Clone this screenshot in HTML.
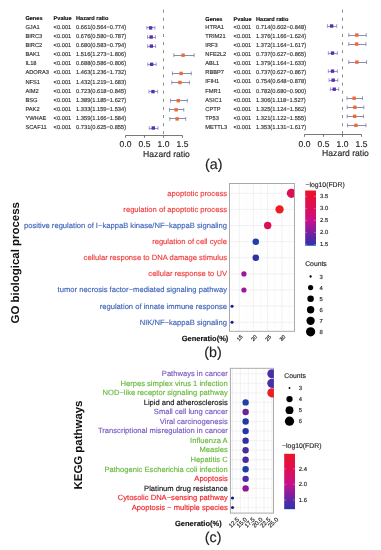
<!DOCTYPE html>
<html><head><meta charset="utf-8"><style>
html,body{margin:0;padding:0;background:#fff;}
svg{display:block;font-family:"Liberation Sans", sans-serif;text-rendering:geometricPrecision;-webkit-font-smoothing:antialiased;will-change:transform;}
</style></head><body>
<svg width="381" height="550" viewBox="0 0 381 550">
<rect width="381" height="550" fill="#fff"/>
<text x="25.40" y="19.80" font-size="5.6" fill="#111" stroke="#111" stroke-width="0.14" font-weight="bold">Genes</text>
<text x="53.60" y="19.80" font-size="5.6" fill="#111" stroke="#111" stroke-width="0.14" font-weight="bold">Pvalue</text>
<text x="76.00" y="19.80" font-size="5.6" fill="#111" stroke="#111" stroke-width="0.14" font-weight="bold">Hazard ratio</text>
<text x="25.40" y="28.90" font-size="5.72" fill="#333" stroke="#333" stroke-width="0.14">GJA1</text>
<text x="53.60" y="28.90" font-size="5.72" fill="#333" stroke="#333" stroke-width="0.14">&lt;0.001</text>
<text x="76.00" y="28.90" font-size="5.72" fill="#333" stroke="#333" stroke-width="0.14">0.661(0.564−0.774)</text>
<text x="25.40" y="38.00" font-size="5.72" fill="#333" stroke="#333" stroke-width="0.14">BIRC3</text>
<text x="53.60" y="38.00" font-size="5.72" fill="#333" stroke="#333" stroke-width="0.14">&lt;0.001</text>
<text x="76.00" y="38.00" font-size="5.72" fill="#333" stroke="#333" stroke-width="0.14">0.676(0.580−0.787)</text>
<text x="25.40" y="47.10" font-size="5.72" fill="#333" stroke="#333" stroke-width="0.14">BIRC2</text>
<text x="53.60" y="47.10" font-size="5.72" fill="#333" stroke="#333" stroke-width="0.14">&lt;0.001</text>
<text x="76.00" y="47.10" font-size="5.72" fill="#333" stroke="#333" stroke-width="0.14">0.680(0.583−0.794)</text>
<text x="25.40" y="56.20" font-size="5.72" fill="#333" stroke="#333" stroke-width="0.14">BAK1</text>
<text x="53.60" y="56.20" font-size="5.72" fill="#333" stroke="#333" stroke-width="0.14">&lt;0.001</text>
<text x="76.00" y="56.20" font-size="5.72" fill="#333" stroke="#333" stroke-width="0.14">1.516(1.273−1.806)</text>
<text x="25.40" y="65.30" font-size="5.72" fill="#333" stroke="#333" stroke-width="0.14">IL18</text>
<text x="53.60" y="65.30" font-size="5.72" fill="#333" stroke="#333" stroke-width="0.14">&lt;0.001</text>
<text x="76.00" y="65.30" font-size="5.72" fill="#333" stroke="#333" stroke-width="0.14">0.688(0.586−0.806)</text>
<text x="25.40" y="74.40" font-size="5.72" fill="#333" stroke="#333" stroke-width="0.14">ADORA3</text>
<text x="53.60" y="74.40" font-size="5.72" fill="#333" stroke="#333" stroke-width="0.14">&lt;0.001</text>
<text x="76.00" y="74.40" font-size="5.72" fill="#333" stroke="#333" stroke-width="0.14">1.463(1.236−1.732)</text>
<text x="25.40" y="83.50" font-size="5.72" fill="#333" stroke="#333" stroke-width="0.14">NFS1</text>
<text x="53.60" y="83.50" font-size="5.72" fill="#333" stroke="#333" stroke-width="0.14">&lt;0.001</text>
<text x="76.00" y="83.50" font-size="5.72" fill="#333" stroke="#333" stroke-width="0.14">1.432(1.219−1.683)</text>
<text x="25.40" y="92.60" font-size="5.72" fill="#333" stroke="#333" stroke-width="0.14">AIM2</text>
<text x="53.60" y="92.60" font-size="5.72" fill="#333" stroke="#333" stroke-width="0.14">&lt;0.001</text>
<text x="76.00" y="92.60" font-size="5.72" fill="#333" stroke="#333" stroke-width="0.14">0.723(0.618−0.845)</text>
<text x="25.40" y="101.70" font-size="5.72" fill="#333" stroke="#333" stroke-width="0.14">BSG</text>
<text x="53.60" y="101.70" font-size="5.72" fill="#333" stroke="#333" stroke-width="0.14">&lt;0.001</text>
<text x="76.00" y="101.70" font-size="5.72" fill="#333" stroke="#333" stroke-width="0.14">1.389(1.185−1.627)</text>
<text x="25.40" y="110.80" font-size="5.72" fill="#333" stroke="#333" stroke-width="0.14">PAK2</text>
<text x="53.60" y="110.80" font-size="5.72" fill="#333" stroke="#333" stroke-width="0.14">&lt;0.001</text>
<text x="76.00" y="110.80" font-size="5.72" fill="#333" stroke="#333" stroke-width="0.14">1.333(1.159−1.534)</text>
<text x="25.40" y="119.90" font-size="5.72" fill="#333" stroke="#333" stroke-width="0.14">YWHAE</text>
<text x="53.60" y="119.90" font-size="5.72" fill="#333" stroke="#333" stroke-width="0.14">&lt;0.001</text>
<text x="76.00" y="119.90" font-size="5.72" fill="#333" stroke="#333" stroke-width="0.14">1.359(1.166−1.584)</text>
<text x="25.40" y="129.00" font-size="5.72" fill="#333" stroke="#333" stroke-width="0.14">SCAF11</text>
<text x="53.60" y="129.00" font-size="5.72" fill="#333" stroke="#333" stroke-width="0.14">&lt;0.001</text>
<text x="76.00" y="129.00" font-size="5.72" fill="#333" stroke="#333" stroke-width="0.14">0.731(0.625−0.855)</text>
<line x1="163.50" y1="9.7" x2="163.50" y2="134" stroke="#777" stroke-width="0.85" stroke-dasharray="3 5.1"/>
<line x1="146.93" y1="27.50" x2="154.91" y2="27.50" stroke="#8088c0" stroke-width="0.9"/>
<line x1="146.93" y1="26.00" x2="146.93" y2="29.80" stroke="#8088c0" stroke-width="0.8"/>
<line x1="154.91" y1="26.00" x2="154.91" y2="29.80" stroke="#8088c0" stroke-width="0.8"/>
<rect x="148.92" y="26.20" width="3.4" height="3.4" fill="#5a2db0"/>
<line x1="147.54" y1="37.50" x2="155.41" y2="37.50" stroke="#8088c0" stroke-width="0.9"/>
<line x1="147.54" y1="35.10" x2="147.54" y2="38.90" stroke="#8088c0" stroke-width="0.8"/>
<line x1="155.41" y1="35.10" x2="155.41" y2="38.90" stroke="#8088c0" stroke-width="0.8"/>
<rect x="149.49" y="35.30" width="3.4" height="3.4" fill="#5a2db0"/>
<line x1="147.65" y1="46.50" x2="155.67" y2="46.50" stroke="#8088c0" stroke-width="0.9"/>
<line x1="147.65" y1="44.20" x2="147.65" y2="48.00" stroke="#8088c0" stroke-width="0.8"/>
<line x1="155.67" y1="44.20" x2="155.67" y2="48.00" stroke="#8088c0" stroke-width="0.8"/>
<rect x="149.64" y="44.40" width="3.4" height="3.4" fill="#5a2db0"/>
<line x1="173.87" y1="55.50" x2="194.13" y2="55.50" stroke="#7880aa" stroke-width="0.9"/>
<line x1="173.87" y1="53.30" x2="173.87" y2="57.10" stroke="#7880aa" stroke-width="0.8"/>
<line x1="194.13" y1="53.30" x2="194.13" y2="57.10" stroke="#7880aa" stroke-width="0.8"/>
<rect x="181.41" y="53.50" width="3.4" height="3.4" fill="#f06a35"/>
<line x1="147.77" y1="64.50" x2="156.13" y2="64.50" stroke="#8088c0" stroke-width="0.9"/>
<line x1="147.77" y1="62.40" x2="147.77" y2="66.20" stroke="#8088c0" stroke-width="0.8"/>
<line x1="156.13" y1="62.40" x2="156.13" y2="66.20" stroke="#8088c0" stroke-width="0.8"/>
<rect x="149.94" y="62.60" width="3.4" height="3.4" fill="#5a2db0"/>
<line x1="172.47" y1="73.50" x2="191.32" y2="73.50" stroke="#7880aa" stroke-width="0.9"/>
<line x1="172.47" y1="71.50" x2="172.47" y2="75.30" stroke="#7880aa" stroke-width="0.8"/>
<line x1="191.32" y1="71.50" x2="191.32" y2="75.30" stroke="#7880aa" stroke-width="0.8"/>
<rect x="179.39" y="71.70" width="3.4" height="3.4" fill="#f06a35"/>
<line x1="171.82" y1="82.50" x2="189.45" y2="82.50" stroke="#7880aa" stroke-width="0.9"/>
<line x1="171.82" y1="80.60" x2="171.82" y2="84.40" stroke="#7880aa" stroke-width="0.8"/>
<line x1="189.45" y1="80.60" x2="189.45" y2="84.40" stroke="#7880aa" stroke-width="0.8"/>
<rect x="178.22" y="80.80" width="3.4" height="3.4" fill="#f06a35"/>
<line x1="148.98" y1="91.50" x2="157.61" y2="91.50" stroke="#8088c0" stroke-width="0.9"/>
<line x1="148.98" y1="89.70" x2="148.98" y2="93.50" stroke="#8088c0" stroke-width="0.8"/>
<line x1="157.61" y1="89.70" x2="157.61" y2="93.50" stroke="#8088c0" stroke-width="0.8"/>
<rect x="151.27" y="89.90" width="3.4" height="3.4" fill="#5a2db0"/>
<line x1="170.53" y1="100.50" x2="187.33" y2="100.50" stroke="#7880aa" stroke-width="0.9"/>
<line x1="170.53" y1="98.80" x2="170.53" y2="102.60" stroke="#7880aa" stroke-width="0.8"/>
<line x1="187.33" y1="98.80" x2="187.33" y2="102.60" stroke="#7880aa" stroke-width="0.8"/>
<rect x="176.58" y="99.00" width="3.4" height="3.4" fill="#f06a35"/>
<line x1="169.54" y1="109.50" x2="183.79" y2="109.50" stroke="#7880aa" stroke-width="0.9"/>
<line x1="169.54" y1="107.90" x2="169.54" y2="111.70" stroke="#7880aa" stroke-width="0.8"/>
<line x1="183.79" y1="107.90" x2="183.79" y2="111.70" stroke="#7880aa" stroke-width="0.8"/>
<rect x="174.45" y="108.10" width="3.4" height="3.4" fill="#f06a35"/>
<line x1="169.81" y1="118.50" x2="185.69" y2="118.50" stroke="#7880aa" stroke-width="0.9"/>
<line x1="169.81" y1="117.00" x2="169.81" y2="120.80" stroke="#7880aa" stroke-width="0.8"/>
<line x1="185.69" y1="117.00" x2="185.69" y2="120.80" stroke="#7880aa" stroke-width="0.8"/>
<rect x="175.44" y="117.20" width="3.4" height="3.4" fill="#f06a35"/>
<line x1="149.25" y1="128.50" x2="157.99" y2="128.50" stroke="#8088c0" stroke-width="0.9"/>
<line x1="149.25" y1="126.10" x2="149.25" y2="129.90" stroke="#8088c0" stroke-width="0.8"/>
<line x1="157.99" y1="126.10" x2="157.99" y2="129.90" stroke="#8088c0" stroke-width="0.8"/>
<rect x="151.58" y="126.30" width="3.4" height="3.4" fill="#5a2db0"/>
<line x1="125.50" y1="135.5" x2="182.50" y2="135.5" stroke="#555" stroke-width="0.8"/>
<line x1="125.50" y1="135.5" x2="125.50" y2="137.8" stroke="#555" stroke-width="0.8"/>
<text x="125.50" y="146.80" font-size="8.5" fill="#222" stroke="#222" stroke-width="0.14" text-anchor="middle">0.0</text>
<line x1="144.50" y1="135.5" x2="144.50" y2="137.8" stroke="#555" stroke-width="0.8"/>
<text x="144.50" y="146.80" font-size="8.5" fill="#222" stroke="#222" stroke-width="0.14" text-anchor="middle">0.5</text>
<line x1="163.50" y1="135.5" x2="163.50" y2="137.8" stroke="#555" stroke-width="0.8"/>
<text x="163.50" y="146.80" font-size="8.5" fill="#222" stroke="#222" stroke-width="0.14" text-anchor="middle">1.0</text>
<line x1="182.50" y1="135.5" x2="182.50" y2="137.8" stroke="#555" stroke-width="0.8"/>
<text x="182.50" y="146.80" font-size="8.5" fill="#222" stroke="#222" stroke-width="0.14" text-anchor="middle">1.5</text>
<text x="166.50" y="156.90" font-size="8.6" fill="#222" stroke="#222" stroke-width="0.14" text-anchor="middle">Hazard ratio</text>
<text x="205.30" y="20.80" font-size="5.6" fill="#111" stroke="#111" stroke-width="0.14" font-weight="bold">Genes</text>
<text x="233.60" y="20.80" font-size="5.6" fill="#111" stroke="#111" stroke-width="0.14" font-weight="bold">Pvalue</text>
<text x="256.00" y="20.80" font-size="5.6" fill="#111" stroke="#111" stroke-width="0.14" font-weight="bold">Hazard ratio</text>
<text x="205.30" y="28.80" font-size="5.72" fill="#333" stroke="#333" stroke-width="0.14">HTRA1</text>
<text x="233.60" y="28.80" font-size="5.72" fill="#333" stroke="#333" stroke-width="0.14">&lt;0.001</text>
<text x="256.00" y="28.80" font-size="5.72" fill="#333" stroke="#333" stroke-width="0.14">0.714(0.602−0.848)</text>
<text x="205.30" y="37.90" font-size="5.72" fill="#333" stroke="#333" stroke-width="0.14">TRIM21</text>
<text x="233.60" y="37.90" font-size="5.72" fill="#333" stroke="#333" stroke-width="0.14">&lt;0.001</text>
<text x="256.00" y="37.90" font-size="5.72" fill="#333" stroke="#333" stroke-width="0.14">1.376(1.166−1.624)</text>
<text x="205.30" y="47.00" font-size="5.72" fill="#333" stroke="#333" stroke-width="0.14">IRF3</text>
<text x="233.60" y="47.00" font-size="5.72" fill="#333" stroke="#333" stroke-width="0.14">&lt;0.001</text>
<text x="256.00" y="47.00" font-size="5.72" fill="#333" stroke="#333" stroke-width="0.14">1.372(1.164−1.617)</text>
<text x="205.30" y="56.10" font-size="5.72" fill="#333" stroke="#333" stroke-width="0.14">NFE2L2</text>
<text x="233.60" y="56.10" font-size="5.72" fill="#333" stroke="#333" stroke-width="0.14">&lt;0.001</text>
<text x="256.00" y="56.10" font-size="5.72" fill="#333" stroke="#333" stroke-width="0.14">0.737(0.627−0.865)</text>
<text x="205.30" y="65.20" font-size="5.72" fill="#333" stroke="#333" stroke-width="0.14">ABL1</text>
<text x="233.60" y="65.20" font-size="5.72" fill="#333" stroke="#333" stroke-width="0.14">&lt;0.001</text>
<text x="256.00" y="65.20" font-size="5.72" fill="#333" stroke="#333" stroke-width="0.14">1.379(1.164−1.633)</text>
<text x="205.30" y="74.30" font-size="5.72" fill="#333" stroke="#333" stroke-width="0.14">RBBP7</text>
<text x="233.60" y="74.30" font-size="5.72" fill="#333" stroke="#333" stroke-width="0.14">&lt;0.001</text>
<text x="256.00" y="74.30" font-size="5.72" fill="#333" stroke="#333" stroke-width="0.14">0.737(0.627−0.867)</text>
<text x="205.30" y="83.40" font-size="5.72" fill="#333" stroke="#333" stroke-width="0.14">IFIH1</text>
<text x="233.60" y="83.40" font-size="5.72" fill="#333" stroke="#333" stroke-width="0.14">&lt;0.001</text>
<text x="256.00" y="83.40" font-size="5.72" fill="#333" stroke="#333" stroke-width="0.14">0.754(0.648−0.878)</text>
<text x="205.30" y="92.50" font-size="5.72" fill="#333" stroke="#333" stroke-width="0.14">FMR1</text>
<text x="233.60" y="92.50" font-size="5.72" fill="#333" stroke="#333" stroke-width="0.14">&lt;0.001</text>
<text x="256.00" y="92.50" font-size="5.72" fill="#333" stroke="#333" stroke-width="0.14">0.782(0.680−0.900)</text>
<text x="205.30" y="101.60" font-size="5.72" fill="#333" stroke="#333" stroke-width="0.14">ASIC1</text>
<text x="233.60" y="101.60" font-size="5.72" fill="#333" stroke="#333" stroke-width="0.14">&lt;0.001</text>
<text x="256.00" y="101.60" font-size="5.72" fill="#333" stroke="#333" stroke-width="0.14">1.306(1.118−1.527)</text>
<text x="205.30" y="110.70" font-size="5.72" fill="#333" stroke="#333" stroke-width="0.14">CPTP</text>
<text x="233.60" y="110.70" font-size="5.72" fill="#333" stroke="#333" stroke-width="0.14">&lt;0.001</text>
<text x="256.00" y="110.70" font-size="5.72" fill="#333" stroke="#333" stroke-width="0.14">1.325(1.124−1.562)</text>
<text x="205.30" y="119.80" font-size="5.72" fill="#333" stroke="#333" stroke-width="0.14">TP53</text>
<text x="233.60" y="119.80" font-size="5.72" fill="#333" stroke="#333" stroke-width="0.14">&lt;0.001</text>
<text x="256.00" y="119.80" font-size="5.72" fill="#333" stroke="#333" stroke-width="0.14">1.321(1.122−1.555)</text>
<text x="205.30" y="128.90" font-size="5.72" fill="#333" stroke="#333" stroke-width="0.14">METTL3</text>
<text x="233.60" y="128.90" font-size="5.72" fill="#333" stroke="#333" stroke-width="0.14">&lt;0.001</text>
<text x="256.00" y="128.90" font-size="5.72" fill="#333" stroke="#333" stroke-width="0.14">1.353(1.131−1.617)</text>
<line x1="342.50" y1="9.7" x2="342.50" y2="134.5" stroke="#777" stroke-width="0.85" stroke-dasharray="3 5.1"/>
<line x1="327.38" y1="26.50" x2="336.72" y2="26.50" stroke="#8088c0" stroke-width="0.9"/>
<line x1="327.38" y1="24.10" x2="327.38" y2="27.90" stroke="#8088c0" stroke-width="0.8"/>
<line x1="336.72" y1="24.10" x2="336.72" y2="27.90" stroke="#8088c0" stroke-width="0.8"/>
<rect x="329.93" y="24.30" width="3.4" height="3.4" fill="#5a2db0"/>
<line x1="348.81" y1="35.50" x2="366.21" y2="35.50" stroke="#7880aa" stroke-width="0.9"/>
<line x1="348.81" y1="33.13" x2="348.81" y2="36.93" stroke="#7880aa" stroke-width="0.8"/>
<line x1="366.21" y1="33.13" x2="366.21" y2="36.93" stroke="#7880aa" stroke-width="0.8"/>
<rect x="355.09" y="33.33" width="3.4" height="3.4" fill="#f06a35"/>
<line x1="348.73" y1="44.50" x2="365.95" y2="44.50" stroke="#7880aa" stroke-width="0.9"/>
<line x1="348.73" y1="42.16" x2="348.73" y2="45.96" stroke="#7880aa" stroke-width="0.8"/>
<line x1="365.95" y1="42.16" x2="365.95" y2="45.96" stroke="#7880aa" stroke-width="0.8"/>
<rect x="354.94" y="42.36" width="3.4" height="3.4" fill="#f06a35"/>
<line x1="328.33" y1="53.50" x2="337.37" y2="53.50" stroke="#8088c0" stroke-width="0.9"/>
<line x1="328.33" y1="51.19" x2="328.33" y2="54.99" stroke="#8088c0" stroke-width="0.8"/>
<line x1="337.37" y1="51.19" x2="337.37" y2="54.99" stroke="#8088c0" stroke-width="0.8"/>
<rect x="330.81" y="51.39" width="3.4" height="3.4" fill="#5a2db0"/>
<line x1="348.73" y1="62.50" x2="366.55" y2="62.50" stroke="#7880aa" stroke-width="0.9"/>
<line x1="348.73" y1="60.22" x2="348.73" y2="64.02" stroke="#7880aa" stroke-width="0.8"/>
<line x1="366.55" y1="60.22" x2="366.55" y2="64.02" stroke="#7880aa" stroke-width="0.8"/>
<rect x="355.20" y="60.42" width="3.4" height="3.4" fill="#f06a35"/>
<line x1="328.33" y1="71.50" x2="337.45" y2="71.50" stroke="#8088c0" stroke-width="0.9"/>
<line x1="328.33" y1="69.25" x2="328.33" y2="73.05" stroke="#8088c0" stroke-width="0.8"/>
<line x1="337.45" y1="69.25" x2="337.45" y2="73.05" stroke="#8088c0" stroke-width="0.8"/>
<rect x="330.81" y="69.45" width="3.4" height="3.4" fill="#5a2db0"/>
<line x1="329.12" y1="80.50" x2="337.86" y2="80.50" stroke="#8088c0" stroke-width="0.9"/>
<line x1="329.12" y1="78.28" x2="329.12" y2="82.08" stroke="#8088c0" stroke-width="0.8"/>
<line x1="337.86" y1="78.28" x2="337.86" y2="82.08" stroke="#8088c0" stroke-width="0.8"/>
<rect x="331.45" y="78.48" width="3.4" height="3.4" fill="#5a2db0"/>
<line x1="330.34" y1="89.50" x2="338.70" y2="89.50" stroke="#8088c0" stroke-width="0.9"/>
<line x1="330.34" y1="87.31" x2="330.34" y2="91.11" stroke="#8088c0" stroke-width="0.8"/>
<line x1="338.70" y1="87.31" x2="338.70" y2="91.11" stroke="#8088c0" stroke-width="0.8"/>
<rect x="332.52" y="87.51" width="3.4" height="3.4" fill="#5a2db0"/>
<line x1="346.98" y1="98.50" x2="362.53" y2="98.50" stroke="#7880aa" stroke-width="0.9"/>
<line x1="346.98" y1="96.34" x2="346.98" y2="100.14" stroke="#7880aa" stroke-width="0.8"/>
<line x1="362.53" y1="96.34" x2="362.53" y2="100.14" stroke="#7880aa" stroke-width="0.8"/>
<rect x="352.43" y="96.54" width="3.4" height="3.4" fill="#f06a35"/>
<line x1="347.21" y1="107.50" x2="363.86" y2="107.50" stroke="#7880aa" stroke-width="0.9"/>
<line x1="347.21" y1="105.37" x2="347.21" y2="109.17" stroke="#7880aa" stroke-width="0.8"/>
<line x1="363.86" y1="105.37" x2="363.86" y2="109.17" stroke="#7880aa" stroke-width="0.8"/>
<rect x="353.15" y="105.57" width="3.4" height="3.4" fill="#f06a35"/>
<line x1="347.14" y1="116.50" x2="363.59" y2="116.50" stroke="#7880aa" stroke-width="0.9"/>
<line x1="347.14" y1="114.40" x2="347.14" y2="118.20" stroke="#7880aa" stroke-width="0.8"/>
<line x1="363.59" y1="114.40" x2="363.59" y2="118.20" stroke="#7880aa" stroke-width="0.8"/>
<rect x="353.00" y="114.60" width="3.4" height="3.4" fill="#f06a35"/>
<line x1="347.48" y1="125.50" x2="365.95" y2="125.50" stroke="#7880aa" stroke-width="0.9"/>
<line x1="347.48" y1="123.43" x2="347.48" y2="127.23" stroke="#7880aa" stroke-width="0.8"/>
<line x1="365.95" y1="123.43" x2="365.95" y2="127.23" stroke="#7880aa" stroke-width="0.8"/>
<rect x="354.21" y="123.63" width="3.4" height="3.4" fill="#f06a35"/>
<line x1="304.50" y1="134.5" x2="361.50" y2="134.5" stroke="#555" stroke-width="0.8"/>
<line x1="304.50" y1="134.5" x2="304.50" y2="136.8" stroke="#555" stroke-width="0.8"/>
<text x="304.50" y="146.50" font-size="8.5" fill="#222" stroke="#222" stroke-width="0.14" text-anchor="middle">0.0</text>
<line x1="323.50" y1="134.5" x2="323.50" y2="136.8" stroke="#555" stroke-width="0.8"/>
<text x="323.50" y="146.50" font-size="8.5" fill="#222" stroke="#222" stroke-width="0.14" text-anchor="middle">0.5</text>
<line x1="342.50" y1="134.5" x2="342.50" y2="136.8" stroke="#555" stroke-width="0.8"/>
<text x="342.50" y="146.50" font-size="8.5" fill="#222" stroke="#222" stroke-width="0.14" text-anchor="middle">1.0</text>
<line x1="361.50" y1="134.5" x2="361.50" y2="136.8" stroke="#555" stroke-width="0.8"/>
<text x="361.50" y="146.50" font-size="8.5" fill="#222" stroke="#222" stroke-width="0.14" text-anchor="middle">1.5</text>
<text x="345.50" y="156.30" font-size="8.6" fill="#222" stroke="#222" stroke-width="0.14" text-anchor="middle">Hazard ratio</text>
<text x="213.70" y="169.00" font-size="14.3" fill="#222" stroke="#222" stroke-width="0.14" text-anchor="middle">(a)</text>
<rect x="229.5" y="183.5" width="65.0" height="147.8" fill="#fff"/>
<line x1="232.04" y1="183.5" x2="232.04" y2="331.3" stroke="#f4f4f4" stroke-width="0.5"/>
<line x1="246.29" y1="183.5" x2="246.29" y2="331.3" stroke="#f4f4f4" stroke-width="0.5"/>
<line x1="260.55" y1="183.5" x2="260.55" y2="331.3" stroke="#f4f4f4" stroke-width="0.5"/>
<line x1="274.80" y1="183.5" x2="274.80" y2="331.3" stroke="#f4f4f4" stroke-width="0.5"/>
<line x1="289.06" y1="183.5" x2="289.06" y2="331.3" stroke="#f4f4f4" stroke-width="0.5"/>
<line x1="239.17" y1="183.5" x2="239.17" y2="331.3" stroke="#ededed" stroke-width="0.8"/>
<line x1="253.42" y1="183.5" x2="253.42" y2="331.3" stroke="#ededed" stroke-width="0.8"/>
<line x1="267.68" y1="183.5" x2="267.68" y2="331.3" stroke="#ededed" stroke-width="0.8"/>
<line x1="281.93" y1="183.5" x2="281.93" y2="331.3" stroke="#ededed" stroke-width="0.8"/>
<line x1="229.5" y1="193.30" x2="294.5" y2="193.30" stroke="#ededed" stroke-width="0.8"/>
<line x1="229.5" y1="209.42" x2="294.5" y2="209.42" stroke="#ededed" stroke-width="0.8"/>
<line x1="229.5" y1="225.54" x2="294.5" y2="225.54" stroke="#ededed" stroke-width="0.8"/>
<line x1="229.5" y1="241.66" x2="294.5" y2="241.66" stroke="#ededed" stroke-width="0.8"/>
<line x1="229.5" y1="257.78" x2="294.5" y2="257.78" stroke="#ededed" stroke-width="0.8"/>
<line x1="229.5" y1="273.90" x2="294.5" y2="273.90" stroke="#ededed" stroke-width="0.8"/>
<line x1="229.5" y1="290.02" x2="294.5" y2="290.02" stroke="#ededed" stroke-width="0.8"/>
<line x1="229.5" y1="306.14" x2="294.5" y2="306.14" stroke="#ededed" stroke-width="0.8"/>
<line x1="229.5" y1="322.26" x2="294.5" y2="322.26" stroke="#ededed" stroke-width="0.8"/>
<defs><clipPath id="cb"><rect x="229.5" y="183.5" width="65.0" height="147.8"/></clipPath></defs>
<g clip-path="url(#cb)">
<circle cx="291.43" cy="193.30" r="4.6" fill="#dc1050"/>
<circle cx="279.55" cy="209.42" r="4.15" fill="#ee1c24"/>
<circle cx="267.68" cy="225.54" r="3.7" fill="#dc0f55"/>
<circle cx="255.80" cy="241.66" r="3.25" fill="#1f3fb0"/>
<circle cx="255.80" cy="257.78" r="3.25" fill="#3030a8"/>
<circle cx="243.92" cy="273.90" r="2.6" fill="#9a189e"/>
<circle cx="243.92" cy="290.02" r="2.6" fill="#9a189e"/>
<circle cx="232.04" cy="306.14" r="1.5" fill="#1c1490"/>
<circle cx="232.04" cy="322.26" r="1.5" fill="#1c1490"/>
</g>
<rect x="229.5" y="183.5" width="65.0" height="147.8" fill="none" stroke="#a6a6a6" stroke-width="0.95"/>
<text x="227.00" y="195.70" font-size="7.62" fill="#ee3a3a" stroke="#ee3a3a" stroke-width="0.14" text-anchor="end">apoptotic process</text>
<text x="227.00" y="211.82" font-size="7.62" fill="#ee3a3a" stroke="#ee3a3a" stroke-width="0.14" text-anchor="end">regulation of apoptotic process</text>
<text x="227.00" y="227.94" font-size="7.62" fill="#3f63b8" stroke="#3f63b8" stroke-width="0.14" text-anchor="end">positive regulation of I−kappaB kinase/NF−kappaB signaling</text>
<text x="227.00" y="244.06" font-size="7.62" fill="#ee3a3a" stroke="#ee3a3a" stroke-width="0.14" text-anchor="end">regulation of cell cycle</text>
<text x="227.00" y="260.18" font-size="7.62" fill="#ee3a3a" stroke="#ee3a3a" stroke-width="0.14" text-anchor="end">cellular response to DNA damage stimulus</text>
<text x="227.00" y="276.30" font-size="7.62" fill="#ee3a3a" stroke="#ee3a3a" stroke-width="0.14" text-anchor="end">cellular response to UV</text>
<text x="227.00" y="292.42" font-size="7.62" fill="#3f63b8" stroke="#3f63b8" stroke-width="0.14" text-anchor="end">tumor necrosis factor−mediated signaling pathway</text>
<text x="227.00" y="308.54" font-size="7.62" fill="#3f63b8" stroke="#3f63b8" stroke-width="0.14" text-anchor="end">regulation of innate immune response</text>
<text x="227.00" y="324.66" font-size="7.62" fill="#3f63b8" stroke="#3f63b8" stroke-width="0.14" text-anchor="end">NIK/NF−kappaB signaling</text>
<text x="0" y="0" font-size="5.3" fill="#222" stroke="#222" stroke-width="0.2" text-anchor="end" transform="translate(243.07,337.2) rotate(-45)">15</text>
<text x="0" y="0" font-size="5.3" fill="#222" stroke="#222" stroke-width="0.2" text-anchor="end" transform="translate(257.32,337.2) rotate(-45)">20</text>
<text x="0" y="0" font-size="5.3" fill="#222" stroke="#222" stroke-width="0.2" text-anchor="end" transform="translate(271.57,337.2) rotate(-45)">25</text>
<text x="0" y="0" font-size="5.3" fill="#222" stroke="#222" stroke-width="0.2" text-anchor="end" transform="translate(285.83,337.2) rotate(-45)">30</text>
<text x="181.70" y="341.30" font-size="7.5" fill="#111" stroke="#111" stroke-width="0.14" font-weight="bold">Generatio(%)</text>
<text x="213.00" y="357.00" font-size="14.3" fill="#222" stroke="#222" stroke-width="0.14" text-anchor="middle">(b)</text>
<text x="0" y="0" font-size="11.45" font-weight="bold" fill="#111" transform="translate(19.1,323.5) rotate(-90)">GO biological process</text>
<text x="305.40" y="187.40" font-size="6.85" fill="#222" stroke="#222" stroke-width="0.14">−log10(FDR)</text>
<defs><linearGradient id="gb" x1="0" y1="1" x2="0" y2="0"><stop offset="0" stop-color="#1c3ab0"/><stop offset="0.03" stop-color="#3432aa"/><stop offset="0.243" stop-color="#7a20a0"/><stop offset="0.458" stop-color="#c8108c"/><stop offset="0.676" stop-color="#dc1058"/><stop offset="0.893" stop-color="#e8103a"/><stop offset="1" stop-color="#ee1424"/></linearGradient></defs>
<rect x="305.2" y="190.5" width="10.8" height="55.2" fill="url(#gb)"/>
<line x1="305.2" y1="196.40" x2="307.2" y2="196.40" stroke="#fff" stroke-width="0.5" stroke-opacity="0.6"/>
<line x1="314" y1="196.40" x2="316" y2="196.40" stroke="#fff" stroke-width="0.5" stroke-opacity="0.6"/>
<text x="320.00" y="198.10" font-size="5.9" fill="#222" stroke="#222" stroke-width="0.14">3.5</text>
<line x1="305.2" y1="208.40" x2="307.2" y2="208.40" stroke="#fff" stroke-width="0.5" stroke-opacity="0.6"/>
<line x1="314" y1="208.40" x2="316" y2="208.40" stroke="#fff" stroke-width="0.5" stroke-opacity="0.6"/>
<text x="320.00" y="210.10" font-size="5.9" fill="#222" stroke="#222" stroke-width="0.14">3.0</text>
<line x1="305.2" y1="220.40" x2="307.2" y2="220.40" stroke="#fff" stroke-width="0.5" stroke-opacity="0.6"/>
<line x1="314" y1="220.40" x2="316" y2="220.40" stroke="#fff" stroke-width="0.5" stroke-opacity="0.6"/>
<text x="320.00" y="222.10" font-size="5.9" fill="#222" stroke="#222" stroke-width="0.14">2.5</text>
<line x1="305.2" y1="232.40" x2="307.2" y2="232.40" stroke="#fff" stroke-width="0.5" stroke-opacity="0.6"/>
<line x1="314" y1="232.40" x2="316" y2="232.40" stroke="#fff" stroke-width="0.5" stroke-opacity="0.6"/>
<text x="320.00" y="234.10" font-size="5.9" fill="#222" stroke="#222" stroke-width="0.14">2.0</text>
<line x1="305.2" y1="244.40" x2="307.2" y2="244.40" stroke="#fff" stroke-width="0.5" stroke-opacity="0.6"/>
<line x1="314" y1="244.40" x2="316" y2="244.40" stroke="#fff" stroke-width="0.5" stroke-opacity="0.6"/>
<text x="320.00" y="246.10" font-size="5.9" fill="#222" stroke="#222" stroke-width="0.14">1.5</text>
<text x="305.20" y="266.30" font-size="6.8" fill="#222" stroke="#222" stroke-width="0.14">Counts</text>
<circle cx="310.6" cy="276.50" r="1.15" fill="#000"/>
<text x="319.50" y="278.60" font-size="5.9" fill="#222" stroke="#222" stroke-width="0.14">3</text>
<circle cx="310.6" cy="287.57" r="2.6" fill="#000"/>
<text x="319.50" y="289.67" font-size="5.9" fill="#222" stroke="#222" stroke-width="0.14">4</text>
<circle cx="310.6" cy="298.64" r="3.25" fill="#000"/>
<text x="319.50" y="300.74" font-size="5.9" fill="#222" stroke="#222" stroke-width="0.14">5</text>
<circle cx="310.6" cy="309.71" r="3.7" fill="#000"/>
<text x="319.50" y="311.81" font-size="5.9" fill="#222" stroke="#222" stroke-width="0.14">6</text>
<circle cx="310.6" cy="320.78" r="4.15" fill="#000"/>
<text x="319.50" y="322.88" font-size="5.9" fill="#222" stroke="#222" stroke-width="0.14">7</text>
<circle cx="310.6" cy="331.85" r="4.6" fill="#000"/>
<text x="319.50" y="333.95" font-size="5.9" fill="#222" stroke="#222" stroke-width="0.14">8</text>
<rect x="230.4" y="368.3" width="43.099999999999994" height="144.8" fill="#fff"/>
<line x1="236.44" y1="368.3" x2="236.44" y2="513.1" stroke="#f4f4f4" stroke-width="0.5"/>
<line x1="244.31" y1="368.3" x2="244.31" y2="513.1" stroke="#f4f4f4" stroke-width="0.5"/>
<line x1="252.19" y1="368.3" x2="252.19" y2="513.1" stroke="#f4f4f4" stroke-width="0.5"/>
<line x1="260.06" y1="368.3" x2="260.06" y2="513.1" stroke="#f4f4f4" stroke-width="0.5"/>
<line x1="267.94" y1="368.3" x2="267.94" y2="513.1" stroke="#f4f4f4" stroke-width="0.5"/>
<line x1="232.50" y1="368.3" x2="232.50" y2="513.1" stroke="#ededed" stroke-width="0.8"/>
<line x1="240.38" y1="368.3" x2="240.38" y2="513.1" stroke="#ededed" stroke-width="0.8"/>
<line x1="248.25" y1="368.3" x2="248.25" y2="513.1" stroke="#ededed" stroke-width="0.8"/>
<line x1="256.12" y1="368.3" x2="256.12" y2="513.1" stroke="#ededed" stroke-width="0.8"/>
<line x1="264.00" y1="368.3" x2="264.00" y2="513.1" stroke="#ededed" stroke-width="0.8"/>
<line x1="271.88" y1="368.3" x2="271.88" y2="513.1" stroke="#ededed" stroke-width="0.8"/>
<line x1="230.4" y1="373.75" x2="273.5" y2="373.75" stroke="#ededed" stroke-width="0.8"/>
<line x1="230.4" y1="383.31" x2="273.5" y2="383.31" stroke="#ededed" stroke-width="0.8"/>
<line x1="230.4" y1="392.86" x2="273.5" y2="392.86" stroke="#ededed" stroke-width="0.8"/>
<line x1="230.4" y1="402.42" x2="273.5" y2="402.42" stroke="#ededed" stroke-width="0.8"/>
<line x1="230.4" y1="411.97" x2="273.5" y2="411.97" stroke="#ededed" stroke-width="0.8"/>
<line x1="230.4" y1="421.52" x2="273.5" y2="421.52" stroke="#ededed" stroke-width="0.8"/>
<line x1="230.4" y1="431.08" x2="273.5" y2="431.08" stroke="#ededed" stroke-width="0.8"/>
<line x1="230.4" y1="440.63" x2="273.5" y2="440.63" stroke="#ededed" stroke-width="0.8"/>
<line x1="230.4" y1="450.19" x2="273.5" y2="450.19" stroke="#ededed" stroke-width="0.8"/>
<line x1="230.4" y1="459.75" x2="273.5" y2="459.75" stroke="#ededed" stroke-width="0.8"/>
<line x1="230.4" y1="469.30" x2="273.5" y2="469.30" stroke="#ededed" stroke-width="0.8"/>
<line x1="230.4" y1="478.86" x2="273.5" y2="478.86" stroke="#ededed" stroke-width="0.8"/>
<line x1="230.4" y1="488.41" x2="273.5" y2="488.41" stroke="#ededed" stroke-width="0.8"/>
<line x1="230.4" y1="497.97" x2="273.5" y2="497.97" stroke="#ededed" stroke-width="0.8"/>
<line x1="230.4" y1="507.52" x2="273.5" y2="507.52" stroke="#ededed" stroke-width="0.8"/>
<rect x="230.4" y="368.3" width="43.099999999999994" height="144.8" fill="none" stroke="#a6a6a6" stroke-width="0.95"/>
<defs><clipPath id="cc"><rect x="230.4" y="368.3" width="43.449999999999996" height="144.8"/></clipPath></defs>
<g clip-path="url(#cc)">
<circle cx="271.88" cy="373.75" r="4.6" fill="#4a30a8"/>
<circle cx="271.88" cy="383.31" r="4.6" fill="#4a30a8"/>
<circle cx="271.88" cy="392.86" r="4.6" fill="#ee1c24"/>
<circle cx="245.62" cy="402.42" r="3.2" fill="#1c44a8"/>
<circle cx="245.62" cy="411.97" r="3.2" fill="#6a2498"/>
<circle cx="245.62" cy="421.52" r="3.2" fill="#2038a8"/>
<circle cx="245.62" cy="431.08" r="3.2" fill="#2238a8"/>
<circle cx="245.62" cy="440.63" r="3.2" fill="#3030a0"/>
<circle cx="245.62" cy="450.19" r="3.2" fill="#4a2ca0"/>
<circle cx="245.62" cy="459.75" r="3.2" fill="#482ca0"/>
<circle cx="245.62" cy="469.30" r="3.2" fill="#1e3ea8"/>
<circle cx="245.62" cy="478.86" r="3.2" fill="#4a2ca8"/>
<circle cx="245.62" cy="488.41" r="3.2" fill="#8e1898"/>
<circle cx="232.50" cy="497.97" r="1.55" fill="#161890"/>
<circle cx="232.50" cy="507.52" r="1.55" fill="#2a1a80"/>
</g>
<text x="227.70" y="376.05" font-size="7.6" fill="#7556c2" stroke="#7556c2" stroke-width="0.14" text-anchor="end">Pathways in cancer</text>
<text x="227.70" y="385.61" font-size="7.6" fill="#66b83a" stroke="#66b83a" stroke-width="0.14" text-anchor="end">Herpes simplex virus 1 infection</text>
<text x="227.70" y="395.16" font-size="7.6" fill="#66b83a" stroke="#66b83a" stroke-width="0.14" text-anchor="end">NOD−like receptor signaling pathway</text>
<text x="227.70" y="404.72" font-size="7.6" fill="#111" stroke="#111" stroke-width="0.14" text-anchor="end">Lipid and atherosclerosis</text>
<text x="227.70" y="414.27" font-size="7.6" fill="#7556c2" stroke="#7556c2" stroke-width="0.14" text-anchor="end">Small cell lung cancer</text>
<text x="227.70" y="423.82" font-size="7.6" fill="#7556c2" stroke="#7556c2" stroke-width="0.14" text-anchor="end">Viral carcinogenesis</text>
<text x="227.70" y="433.38" font-size="7.6" fill="#7556c2" stroke="#7556c2" stroke-width="0.14" text-anchor="end">Transcriptional misregulation in cancer</text>
<text x="227.70" y="442.94" font-size="7.6" fill="#66b83a" stroke="#66b83a" stroke-width="0.14" text-anchor="end">Influenza A</text>
<text x="227.70" y="452.49" font-size="7.6" fill="#66b83a" stroke="#66b83a" stroke-width="0.14" text-anchor="end">Measles</text>
<text x="227.70" y="462.05" font-size="7.6" fill="#66b83a" stroke="#66b83a" stroke-width="0.14" text-anchor="end">Hepatitis C</text>
<text x="227.70" y="471.60" font-size="7.6" fill="#66b83a" stroke="#66b83a" stroke-width="0.14" text-anchor="end">Pathogenic Escherichia coli infection</text>
<text x="227.70" y="481.16" font-size="7.6" fill="#ec1e24" stroke="#ec1e24" stroke-width="0.14" text-anchor="end">Apoptosis</text>
<text x="227.70" y="490.71" font-size="7.6" fill="#111" stroke="#111" stroke-width="0.14" text-anchor="end">Platinum drug resistance</text>
<text x="227.70" y="500.27" font-size="7.6" fill="#ec1e24" stroke="#ec1e24" stroke-width="0.14" text-anchor="end">Cytosolic DNA−sensing pathway</text>
<text x="227.70" y="509.82" font-size="7.6" fill="#ec1e24" stroke="#ec1e24" stroke-width="0.14" text-anchor="end">Apoptosis − multiple species</text>
<text x="0" y="0" font-size="6" fill="#222" stroke="#222" stroke-width="0.15" text-anchor="end" transform="translate(239.40,519.8) rotate(-45)">12.5</text>
<text x="0" y="0" font-size="6" fill="#222" stroke="#222" stroke-width="0.15" text-anchor="end" transform="translate(247.28,519.8) rotate(-45)">15.0</text>
<text x="0" y="0" font-size="6" fill="#222" stroke="#222" stroke-width="0.15" text-anchor="end" transform="translate(255.15,519.8) rotate(-45)">17.5</text>
<text x="0" y="0" font-size="6" fill="#222" stroke="#222" stroke-width="0.15" text-anchor="end" transform="translate(263.02,519.8) rotate(-45)">20.0</text>
<text x="0" y="0" font-size="6" fill="#222" stroke="#222" stroke-width="0.15" text-anchor="end" transform="translate(270.90,519.8) rotate(-45)">22.5</text>
<text x="0" y="0" font-size="6" fill="#222" stroke="#222" stroke-width="0.15" text-anchor="end" transform="translate(278.77,519.8) rotate(-45)">25.0</text>
<text x="175.00" y="526.00" font-size="7.5" fill="#111" stroke="#111" stroke-width="0.14" font-weight="bold">Generatio(%)</text>
<text x="213.10" y="541.60" font-size="14.3" fill="#222" stroke="#222" stroke-width="0.14" text-anchor="middle">(c)</text>
<text x="0" y="0" font-size="11.45" font-weight="bold" fill="#111" transform="translate(82,489.5) rotate(-90)">KEGG pathways</text>
<text x="284.30" y="378.10" font-size="6.8" fill="#222" stroke="#222" stroke-width="0.14">Counts</text>
<circle cx="289.5" cy="388.00" r="0.9" fill="#000"/>
<text x="298.80" y="390.10" font-size="5.9" fill="#222" stroke="#222" stroke-width="0.14">3</text>
<circle cx="289.5" cy="399.07" r="3.15" fill="#000"/>
<text x="298.80" y="401.17" font-size="5.9" fill="#222" stroke="#222" stroke-width="0.14">4</text>
<circle cx="289.5" cy="410.14" r="3.95" fill="#000"/>
<text x="298.80" y="412.24" font-size="5.9" fill="#222" stroke="#222" stroke-width="0.14">5</text>
<circle cx="289.5" cy="421.21" r="4.6" fill="#000"/>
<text x="298.80" y="423.31" font-size="5.9" fill="#222" stroke="#222" stroke-width="0.14">6</text>
<text x="282.10" y="447.90" font-size="6.85" fill="#222" stroke="#222" stroke-width="0.14">−log10(FDR)</text>
<defs><linearGradient id="gc" x1="0" y1="1" x2="0" y2="0"><stop offset="0" stop-color="#1c3ab0"/><stop offset="0.03" stop-color="#3432aa"/><stop offset="0.243" stop-color="#7a20a0"/><stop offset="0.458" stop-color="#c8108c"/><stop offset="0.676" stop-color="#dc1058"/><stop offset="0.893" stop-color="#e8103a"/><stop offset="1" stop-color="#ee1424"/></linearGradient></defs>
<rect x="284.2" y="453.8" width="10.8" height="55.4" fill="url(#gc)"/>
<line x1="284.2" y1="468.80" x2="286.2" y2="468.80" stroke="#fff" stroke-width="0.5" stroke-opacity="0.6"/>
<line x1="293" y1="468.80" x2="295" y2="468.80" stroke="#fff" stroke-width="0.5" stroke-opacity="0.6"/>
<text x="298.80" y="470.60" font-size="5.9" fill="#222" stroke="#222" stroke-width="0.14">2.4</text>
<line x1="284.2" y1="484.40" x2="286.2" y2="484.40" stroke="#fff" stroke-width="0.5" stroke-opacity="0.6"/>
<line x1="293" y1="484.40" x2="295" y2="484.40" stroke="#fff" stroke-width="0.5" stroke-opacity="0.6"/>
<text x="298.80" y="486.20" font-size="5.9" fill="#222" stroke="#222" stroke-width="0.14">2.0</text>
<line x1="284.2" y1="500.00" x2="286.2" y2="500.00" stroke="#fff" stroke-width="0.5" stroke-opacity="0.6"/>
<line x1="293" y1="500.00" x2="295" y2="500.00" stroke="#fff" stroke-width="0.5" stroke-opacity="0.6"/>
<text x="298.80" y="501.80" font-size="5.9" fill="#222" stroke="#222" stroke-width="0.14">1.6</text>
</svg></body></html>
